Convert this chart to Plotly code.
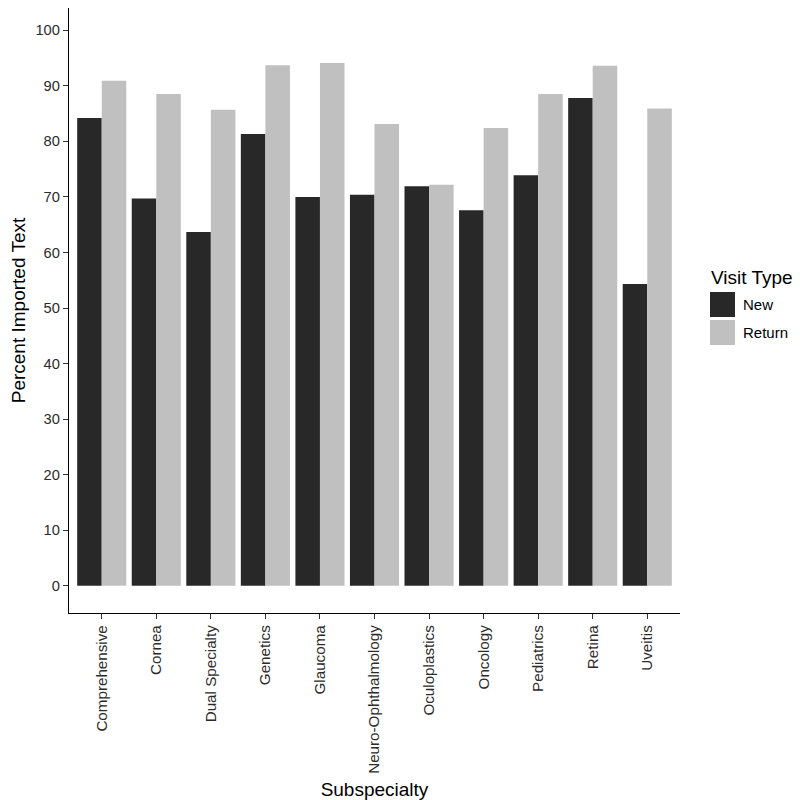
import plotly.graph_objects as go

categories = ["Comprehensive", "Cornea", "Dual Specialty", "Genetics", "Glaucoma",
              "Neuro-Ophthalmology", "Oculoplastics", "Oncology", "Pediatrics",
              "Retina", "Uveitis"]
new_values = [84.2, 69.7, 63.7, 81.3, 70.0, 70.4, 71.9, 67.6, 73.9, 87.8, 54.3]
return_values = [90.9, 88.5, 85.7, 93.7, 94.1, 83.1, 72.2, 82.4, 88.5, 93.6, 85.9]
y_ticks = [0, 10, 20, 30, 40, 50, 60, 70, 80, 90, 100]
series_names = ["New", "Return"]
series_colors = ["#282828", "#c0c0c0"]

FONT = "Liberation Sans, Arial, sans-serif"

fig = go.Figure()
for name, vals, col in zip(series_names, [new_values, return_values], series_colors):
    fig.add_trace(go.Bar(x=categories, y=vals, name=name,
                         marker=dict(color=col, line=dict(width=0)),
                         showlegend=False))

# page has an 8px body margin: figure origin sits at (8, 8) on screen
OFF = 8
FW, FH = 800 - OFF, 800 - OFF
# plot area in screen pixels: x 69..680, y 8..613
L, R, T, B = 69 - OFF, 680 - OFF, 0, 613 - OFF
W, H = R - L, B - T
def px(x):
    return (x - OFF - L) / W
def py(y):
    return (B - (y - OFF)) / H

shapes = []
annotations = []
annotations.append(dict(text="Visit Type", xref="paper", yref="paper",
                        x=px(709), y=py(277), xanchor="left", yanchor="middle",
                        showarrow=False, font=dict(size=19, color="black", family=FONT)))
key_tops = [292, 320]
for name, col, top in zip(series_names, series_colors, key_tops):
    shapes.append(dict(type="rect", xref="paper", yref="paper",
                       x0=px(710), x1=px(735), y0=py(top), y1=py(top + 25),
                       fillcolor=col, line=dict(width=0)))
    annotations.append(dict(text=name, xref="paper", yref="paper",
                            x=px(741), y=py(top + 12.5), xanchor="left", yanchor="middle",
                            showarrow=False, font=dict(size=15, color="black", family=FONT)))

fig.update_layout(
    width=FW, height=FH,
    margin=dict(l=L, r=FW - R, t=T, b=FH - B, autoexpand=False),
    paper_bgcolor="white", plot_bgcolor="white",
    barmode="group", bargap=0.1, bargroupgap=0,
    font=dict(family=FONT, color="black"),
    shapes=shapes, annotations=annotations,
)
fig.update_xaxes(
    type="category", range=[-0.6, 10.6],
    showline=True, linecolor="black", linewidth=1.3,
    ticks="outside", ticklen=5, tickcolor="#333333", tickwidth=1.1,
    tickangle=-90, tickfont=dict(size=15.2, color="#2b2b2b", family=FONT),
    showgrid=False, zeroline=False, automargin=False,
    title=dict(text="Subspecialty", font=dict(size=19, color="black", family=FONT), standoff=10),
)
fig.update_yaxes(
    range=[-4.9, 104.0], tickvals=y_ticks, ticktext=[str(v) for v in y_ticks],
    showline=True, linecolor="black", linewidth=1.3,
    ticks="outside", ticklen=5, tickcolor="#333333", tickwidth=1.1,
    tickfont=dict(size=14.7, color="#2b2b2b", family=FONT),
    showgrid=False, zeroline=False, automargin=False,
    title=dict(text="Percent Imported Text", font=dict(size=19, color="black", family=FONT), standoff=8),
)

fig.write_html("out.html")
